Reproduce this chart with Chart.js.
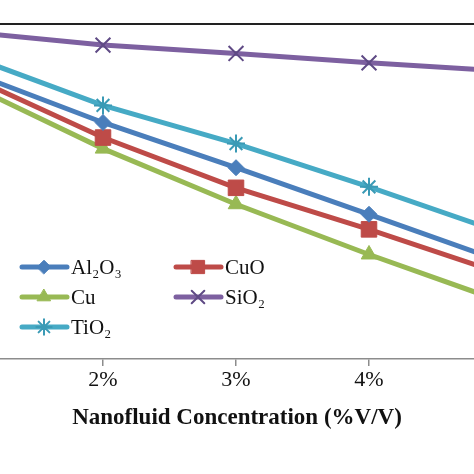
<!DOCTYPE html>
<html>
<head>
<meta charset="utf-8">
<script src="https://cdn.jsdelivr.net/npm/chart.js@4/dist/chart.umd.min.js"></script>
<style>
  html, body { margin: 0; padding: 0; background: #fff; }
  #wrap { width: 474px; height: 474px; }
</style>
</head>
<body>
<div id="wrap"><canvas id="myChart"></canvas></div>
<script>
// concentration (% V/V)
var concentrations = [1, 2, 3, 4, 5];
var xTicks = [2, 3, 4];

// values (y axis is cropped, relative units)
var al2o3 = [85.7, 70.6, 57.1, 43.2, 29.1];
var cuo   = [84.3, 66.1, 51.1, 38.7, 25.5];
var cu    = [81.8, 62.8, 46.2, 31.2, 17.1];
var sio2  = [97.6, 93.7, 91.2, 88.4, 86.0];
var tio2  = [90.4, 75.7, 64.3, 51.4, 37.7];

var labels = ['Al\u2082O\u2083', 'CuO', 'Cu', 'SiO\u2082', 'TiO\u2082'];

function pts(arr) {
  return arr.map(function(v, i) { return { x: concentrations[i], y: v }; });
}

function series(label, values, color, markerColor, style, radius, fill) {
  return {
    label: label,
    data: pts(values),
    borderColor: color,
    borderWidth: 5,
    pointStyle: style,
    pointRadius: radius,
    pointHoverRadius: radius,
    pointBackgroundColor: fill ? markerColor : 'transparent',
    pointBorderColor: markerColor,
    pointBorderWidth: fill ? 1 : 2,
    tension: 0
  };
}

var datasets = [
  series(labels[0], al2o3, '#4a7ebb', '#4a7ebb', 'rectRot', 8, true),
  series(labels[1], cuo, '#be4b48', '#be4b48', 'rect', 11, true),
  series(labels[2], cu, '#98b954', '#98b954', 'triangle', 9, true),
  series(labels[3], sio2, '#7d60a0', '#5f4a85', 'crossRot', 10.5, false),
  series(labels[4], tio2, '#46aac5', '#3a9ab5', 'star', 9, false)
];

// two-column legend inside the plot, bottom left
var legendPlugin = {
  id: 'gridLegend',
  afterDraw: function(chart) {
    var ctx = chart.ctx;
    var area = chart.chartArea;
    var cols = [area.left + 22, area.left + 176];
    var rowTop = area.top + 243;
    var rowGap = 30;
    ctx.save();
    chart.data.datasets.forEach(function(ds, i) {
      var x = cols[i % 2];
      var y = rowTop + Math.floor(i / 2) * rowGap;
      ctx.strokeStyle = ds.borderColor;
      ctx.lineWidth = 5;
      ctx.lineCap = 'round';
      ctx.beginPath();
      ctx.moveTo(x, y);
      ctx.lineTo(x + 45, y);
      ctx.stroke();
      ctx.fillStyle = ds.pointBackgroundColor;
      ctx.strokeStyle = ds.pointBorderColor;
      ctx.lineWidth = ds.pointBorderWidth;
      Chart.helpers.drawPoint(ctx, { pointStyle: ds.pointStyle, radius: ds.pointRadius * 0.85, rotation: 0, borderWidth: ds.pointBorderWidth }, x + 22, y);
      ctx.fillStyle = '#111';
      ctx.font = '21px "Liberation Serif", "DejaVu Serif", serif';
      ctx.textBaseline = 'middle';
      ctx.textAlign = 'left';
      ctx.fillText(ds.label, x + 49, y + 1);
    });
    // dark frame line along the top of the plot
    ctx.strokeStyle = '#222';
    ctx.lineWidth = 2;
    ctx.beginPath();
    ctx.moveTo(0, area.top);
    ctx.lineTo(chart.width, area.top);
    ctx.stroke();
    ctx.restore();
  }
};

var ctx = document.getElementById('myChart').getContext('2d');
var myChart = new Chart(ctx, {
  type: 'line',
  data: { datasets: datasets },
  options: {
    responsive: true,
    maintainAspectRatio: false,
    animation: false,
    layout: { autoPadding: false, padding: { left: 0, right: 0, top: 24, bottom: 38 } },
    plugins: {
      legend: { display: false },
      tooltip: { enabled: false }
    },
    scales: {
      x: {
        type: 'linear',
        min: 2 - 103 / 133,
        max: 2 + 371 / 133,
        afterBuildTicks: function(axis) {
          axis.ticks = xTicks.map(function(v) { return { value: v }; });
        },
        afterFit: function(axis) {
          axis.paddingLeft = 0;
          axis.paddingRight = 0;
        },
        ticks: {
          padding: 1,
          color: '#111',
          font: { family: '"Liberation Serif", serif', size: 22 },
          callback: function(v) { return v + '%'; }
        },
        grid: { drawOnChartArea: false, drawTicks: true, tickLength: 7, color: '#8c8c8c', lineWidth: 1.5 },
        border: { color: '#8c8c8c', width: 1.5 },
        title: {
          display: true,
          text: 'Nanofluid Concentration (%V/V)',
          color: '#111',
          font: { family: '"Liberation Serif", serif', size: 23, weight: 'bold' },
          padding: { top: 10, bottom: 4 }
        }
      },
      y: {
        display: false,
        min: 0,
        max: 100
      }
    }
  },
  plugins: [legendPlugin]
});
</script>
</body>
</html>
